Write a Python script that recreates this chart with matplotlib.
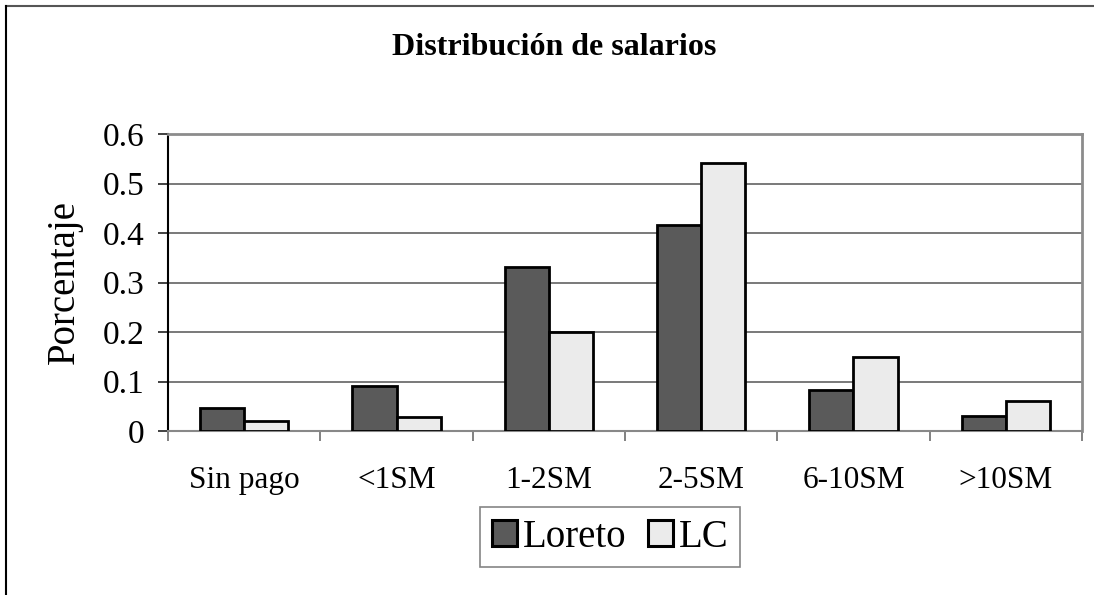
import numpy as np
import matplotlib.pyplot as plt
from matplotlib.lines import Line2D

categories = ['Sin pago', '<1SM', '1-2SM', '2-5SM', '6-10SM', '>10SM']
loreto = [0.047, 0.090, 0.332, 0.417, 0.083, 0.030]
lc = [0.020, 0.028, 0.199, 0.541, 0.150, 0.060]
series_names = ['Loreto', 'LC']
y_ticks = [0, 0.1, 0.2, 0.3, 0.4, 0.5, 0.6]
y_tick_labels = ['0', '0.1', '0.2', '0.3', '0.4', '0.5', '0.6']

plt.rcParams['font.family'] = ['Liberation Serif', 'DejaVu Serif']

fig = plt.figure(figsize=(10.94, 5.95), dpi=100)
ax = fig.add_axes([168 / 1094, 1 - 431 / 595, 914 / 1094, 297 / 595])

x = np.arange(len(categories))
w = 0.29
ax.bar(x - w / 2, loreto, w, color='#5a5a5a', edgecolor='black', linewidth=2,
       label=series_names[0], zorder=3)
ax.bar(x + w / 2, lc, w, color='#ebebeb', edgecolor='black', linewidth=2,
       label=series_names[1], zorder=3)

ax.set_xlim(-0.5, len(categories) - 0.5)
ax.set_ylim(0, 0.6)
ax.set_yticks(y_ticks)
ax.set_yticklabels(y_tick_labels, fontsize=24)
ax.yaxis.grid(True, color='#555555', linewidth=1.1, zorder=0)
ax.set_axisbelow(True)

# category labels centered, tick marks between categories
ax.set_xticks(x)
ax.set_xticklabels(categories, fontsize=22.5)
ax.tick_params(axis='x', length=0, pad=25)
ax.set_xticks(np.arange(len(categories) + 1) - 0.5, minor=True)
ax.tick_params(axis='x', which='minor', length=7, width=1.3, color='#777777', direction='out')
ax.tick_params(axis='y', length=7, width=1.3, color='#333333', pad=10)

ax.spines['left'].set_color('black')
ax.spines['left'].set_linewidth(1.5)
ax.spines['bottom'].set_color('#888888')
ax.spines['bottom'].set_linewidth(1.5)
for s in ['top', 'right']:
    ax.spines[s].set_color('#8c8c8c')
    ax.spines[s].set_linewidth(2)

ax.set_ylabel('Porcentaje', fontsize=28)
ax.yaxis.set_label_coords(-0.093, 0.5)

leg = ax.legend(loc='center', bbox_to_anchor=(0.4836, -0.357), ncol=2,
                fontsize=28, frameon=True, fancybox=False, edgecolor='#666666',
                handlelength=0.65, handleheight=0.65, handletextpad=0.15,
                columnspacing=0.55, borderpad=0.3, borderaxespad=0)
leg.get_frame().set_linewidth(1.2)
for h in leg.legend_handles:
    h.set_linewidth(2.2)

fig.text(554 / 1094, 1 - 55 / 595, 'Distribución de salarios', fontsize=23,
         fontweight='bold', ha='center', va='baseline')

# outer chart border (top and left visible)
fig.add_artist(Line2D([5.5 / 1094, 1], [1 - 5.5 / 595, 1 - 5.5 / 595],
                      transform=fig.transFigure, color='#555555', linewidth=1.5))
fig.add_artist(Line2D([5.5 / 1094, 5.5 / 1094], [0, 1 - 5.5 / 595],
                      transform=fig.transFigure, color='black', linewidth=1.5))

fig.savefig('out.png', dpi=100)
